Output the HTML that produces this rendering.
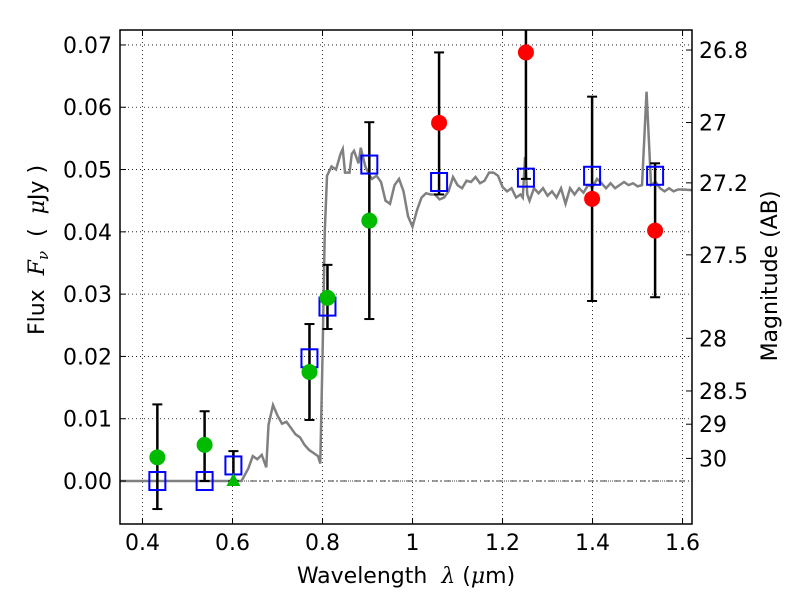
<!DOCTYPE html>
<html><head><meta charset="utf-8"><style>
body{margin:0;background:#fff;}
svg text{font-family:"DejaVu Sans","Liberation Sans",sans-serif;}
.m{font-family:"DejaVu Serif","Liberation Serif",serif;font-style:italic;}
</style></head><body>
<svg id="chart" width="800" height="600" xmlns="http://www.w3.org/2000/svg">
<rect width="800" height="600" fill="#fff"/>
<g id="grid"></g>
<g id="plot"></g>
<g id="axes"></g>
<text x="406" y="583" font-size="22" text-anchor="middle" xml:space="preserve">Wavelength  <tspan class="m">λ</tspan> (<tspan class="m">μ</tspan>m)</text>
<text transform="translate(44,250) rotate(-90)" font-size="22" text-anchor="middle" xml:space="preserve">Flux  <tspan class="m">F</tspan><tspan class="m" font-size="15" dy="4">ν</tspan><tspan dy="-4">  (  </tspan><tspan class="m">μ</tspan>Jy )</text>
<text transform="translate(777,276) rotate(-90)" font-size="22" text-anchor="middle">Magnitude (AB)</text>
</svg>
<script>
const xTicks=[0.4,0.6,0.8,1,1.2,1.4,1.6];
const xTickLabels=["0.4","0.6","0.8","1","1.2","1.4","1.6"];
const yTicks=[0,0.01,0.02,0.03,0.04,0.05,0.06,0.07];
const yTickLabels=["0.00","0.01","0.02","0.03","0.04","0.05","0.06","0.07"];
const magTicks=[26.8,27,27.2,27.5,28,28.5,29,30];
const magTickLabels=["26.8","27","27.2","27.5","28","28.5","29","30"];
const specWl=[0.35,0.62,0.635,0.645,0.655,0.665,0.675,0.68,0.69,0.7,0.71,0.72,0.73,0.74,0.75,0.76,0.77,0.78,0.79,0.795,0.8,0.805,0.81,0.82,0.83,0.84,0.845,0.85,0.86,0.865,0.87,0.88,0.885,0.895,0.905,0.91,0.92,0.93,0.94,0.95,0.96,0.97,0.98,0.99,1.0,1.01,1.02,1.03,1.04,1.05,1.06,1.07,1.08,1.09,1.1,1.11,1.12,1.13,1.14,1.15,1.16,1.17,1.18,1.19,1.2,1.21,1.22,1.23,1.24,1.245,1.25,1.255,1.26,1.27,1.28,1.29,1.3,1.31,1.32,1.33,1.34,1.35,1.36,1.37,1.38,1.39,1.4,1.41,1.42,1.43,1.44,1.45,1.46,1.47,1.48,1.49,1.5,1.51,1.52,1.53,1.54,1.55,1.56,1.57,1.58,1.59,1.6,1.62];
const specFlux=[0,0,0.002,0.004,0.0035,0.0042,0.0022,0.009,0.0122,0.0105,0.0092,0.0095,0.0085,0.0075,0.007,0.0058,0.005,0.0045,0.004,0.0028,0.02,0.04,0.049,0.0505,0.05,0.0525,0.0533,0.0495,0.0495,0.0525,0.053,0.051,0.0535,0.0505,0.049,0.0485,0.049,0.048,0.045,0.0445,0.0475,0.0485,0.0465,0.0425,0.0408,0.0435,0.0455,0.0462,0.046,0.046,0.0452,0.0455,0.0465,0.0488,0.0475,0.047,0.0482,0.048,0.0488,0.0478,0.0482,0.0495,0.0495,0.049,0.0472,0.0465,0.047,0.0455,0.046,0.0455,0.052,0.046,0.045,0.047,0.0462,0.047,0.0458,0.0465,0.0455,0.047,0.0445,0.047,0.046,0.047,0.0463,0.0475,0.0472,0.0485,0.0478,0.047,0.0478,0.047,0.0475,0.048,0.0475,0.0478,0.0473,0.0475,0.0625,0.0475,0.048,0.047,0.0465,0.047,0.0465,0.0468,0.0468,0.0467];
const modelWl=[0.433,0.538,0.602,0.771,0.811,0.904,1.059,1.252,1.399,1.539];
const modelFlux=[0,0,0.0025,0.0197,0.028,0.0508,0.048,0.0487,0.049,0.049];
const obsWl=[0.433,0.538,0.602,0.771,0.811,0.904,1.059,1.252,1.399,1.539];
const obsFlux=[0.0038,0.0058,0,0.0175,0.0294,0.0418,0.0575,0.0688,0.0453,0.0402];
const obsLo=[-0.0045,0,0,0.0098,0.0244,0.026,0.046,0.0485,0.0289,0.0295];
const obsHi=[0.0123,0.0112,0.0048,0.0252,0.0347,0.0576,0.0688,0.08,0.0617,0.051];
const obsKind=["g","g","t","g","g","g","r","r","r","r"];

const L=120,R=692,T=30,B=524,X0=0.35,X1=1.621,Y0=-0.0069,Y1=0.0724;
const sx=v=>L+(v-X0)/(X1-X0)*(R-L);
const sy=v=>B-(v-Y0)/(Y1-Y0)*(B-T);
const NS="http://www.w3.org/2000/svg";
function mk(tag,attrs,parent){const e=document.createElementNS(NS,tag);for(const k in attrs)e.setAttribute(k,attrs[k]);parent.appendChild(e);return e;}
const grid=document.getElementById('grid'),plot=document.getElementById('plot'),axes=document.getElementById('axes');
const clip=mk('clipPath',{id:'cp'},document.getElementById('chart'));
mk('rect',{x:L,y:T,width:R-L,height:B-T},clip);
xTicks.forEach((t,i)=>{
  const x=sx(t);
  const g=mk('line',{x1:x,x2:x,y1:T,y2:B,stroke:'#000','stroke-width':0.8,'stroke-dasharray':'1,3'},grid);
  
  
  mk('line',{x1:x,x2:x,y1:B,y2:B-6,stroke:'#000'},axes);
  mk('line',{x1:x,x2:x,y1:T,y2:T+6,stroke:'#000'},axes);
  const tx=mk('text',{x:x,y:B+26,'font-size':22,'text-anchor':'middle'},axes);
  tx.textContent=xTickLabels[i];
  
  
});
yTicks.forEach((t,i)=>{
  const y=sy(t);
  const g=mk('line',{x1:L,x2:R,y1:y,y2:y,stroke:'#000','stroke-width':0.8,'stroke-dasharray':'1,3'},grid);
  
  
  mk('line',{x1:L,x2:L+6,y1:y,y2:y,stroke:'#000'},axes);
  const tx=mk('text',{x:L-8,y:y+8,'font-size':22,'text-anchor':'end'},axes);
  tx.textContent=yTickLabels[i];
  
  
});
magTicks.forEach((m,i)=>{
  const y=sy(Math.pow(10,(23.9-m)/2.5));
  mk('line',{x1:R,x2:R-6,y1:y,y2:y,stroke:'#000'},axes);
  const tx=mk('text',{x:R+7,y:y+8,'font-size':22,'text-anchor':'start'},axes);
  tx.textContent=magTickLabels[i];
  
  
});
const pg=mk('g',{'clip-path':'url(#cp)'},plot);
const zl=mk('line',{x1:L,x2:R,y1:sy(0),y2:sy(0),stroke:'#000','stroke-width':0.8,'stroke-dasharray':'6,3,1,3'},pg);


const sp=mk('polyline',{points:specWl.map((w,i)=>sx(w)+','+sy(specFlux[i])).join(' '),fill:'none',stroke:'#808080','stroke-width':2.5},pg);


obsWl.forEach((w,i)=>{
  const x=sx(w);
  const e=mk('g',{stroke:'#000','stroke-width':2.5},pg);
  
  
  mk('line',{x1:x,x2:x,y1:sy(obsLo[i]),y2:sy(obsHi[i])},e);
  mk('line',{x1:x-5,x2:x+5,y1:sy(obsLo[i]),y2:sy(obsLo[i]),'stroke-width':2},e);
  mk('line',{x1:x-5,x2:x+5,y1:sy(obsHi[i]),y2:sy(obsHi[i]),'stroke-width':2},e);
});
modelWl.forEach((w,i)=>{
  const r=mk('rect',{x:sx(w)-8,y:sy(modelFlux[i])-9,width:16,height:18,fill:'none',stroke:'#0000ff','stroke-width':2},pg);
  
  
});
obsWl.forEach((w,i)=>{
  const x=sx(w),y=sy(obsFlux[i]);let m;
  if(obsKind[i]==='t'){m=mk('polygon',{points:`${x},${y-8} ${x-7},${y+5} ${x+7},${y+5}`,fill:'#00bb00'},pg);}
  else{m=mk('circle',{cx:x,cy:y,r:8,fill:obsKind[i]==='g'?'#00bb00':'#ff0000'},pg);}
  
  
});
const fr=mk('rect',{x:L,y:T,width:R-L,height:B-T,fill:'none',stroke:'#000','stroke-width':1.5},axes);


</script>
</body></html>
